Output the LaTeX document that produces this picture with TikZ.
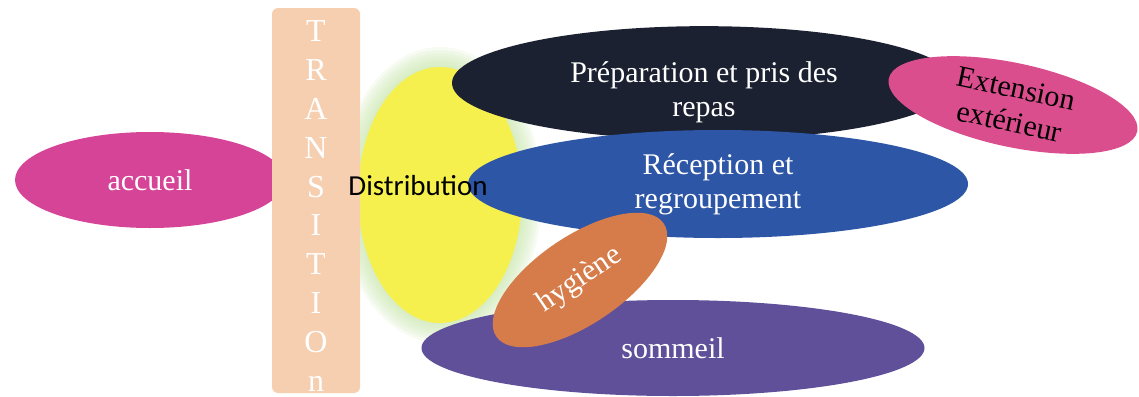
\documentclass[tikz,border=0pt]{standalone}
\usepackage{fontspec}
\setmainfont{Liberation Serif}
\newfontfamily\calibrifont{Carlito}
\usepackage{xcolor}
\usetikzlibrary{shapes.geometric, positioning}
\definecolor{accueilpink}{RGB}{214, 68, 152}
\definecolor{extpink}{RGB}{219, 78, 142}
\definecolor{barpeach}{RGB}{246, 207, 177}
\definecolor{distyellow}{RGB}{246, 240, 78}
\definecolor{halogreen}{RGB}{196, 228, 166}
\definecolor{repasnavy}{RGB}{28, 33, 50}
\definecolor{receptblue}{RGB}{46, 86, 166}
\definecolor{sommeilviolet}{RGB}{96, 80, 154}
\definecolor{hygorange}{RGB}{214, 124, 74}

\begin{document}
\begin{tikzpicture}[
    x=0.5pt, y=-0.5pt,
    zone/.style={ellipse, inner sep=0pt, text=white, align=center, font=\fontsize{15}{17}\selectfont},
    halo/.style={fill=halogreen, opacity=0.14},
    bar/.style={rectangle, rounded corners=3pt, inner sep=0pt, fill=barpeach, text=white, align=center, font=\fontsize{16}{19.4}\selectfont}
]
\useasboundingbox (0,0) rectangle (1139,396);

% halo round the yellow zone
\foreach \r in {20,17,...,2}
    \fill[halo] (440,195) ellipse [x radius=82+\r, y radius=128+\r];
\node[zone, fill=distyellow, minimum width=82pt, minimum height=128pt] (distzone) at (440,195) {};

\node[zone, fill=accueilpink, minimum width=135pt, minimum height=48pt] (accueil) at (150,180) {accueil};
\node[bar, minimum width=44pt, minimum height=192.5pt] (transition) at (316,200.5) {\rule{0pt}{16pt}T\\R\\A\\N\\S\\I\\T\\I\\O\\n};

\node[zone, fill=repasnavy, minimum width=252pt, minimum height=47pt] (repas) at (704,83) {\rule{0pt}{20pt}Préparation et pris des\\repas};
\node[zone, fill=extpink, text=black, rotate=-12, minimum width=127pt, minimum height=42pt] (extension) at (1013,105) {Extension\\extérieur};
\node[zone, fill=receptblue, minimum width=250pt, minimum height=54pt] (reception) at (718,184) {Réception et\\regroupement};
\node[zone, fill=sommeilviolet, minimum width=251.5pt, minimum height=48pt] (sommeil) at (673,348) {sommeil};
\node[zone, fill=hygorange, rotate=34, minimum width=101pt, minimum height=44pt] (hygiene) at (580,280) {hygiène};

\node[font=\calibrifont\fontsize{14.5}{17}\selectfont, text=black, inner sep=0pt] (distribution) at (418,186) {Distribution};
\end{tikzpicture}
\end{document}
